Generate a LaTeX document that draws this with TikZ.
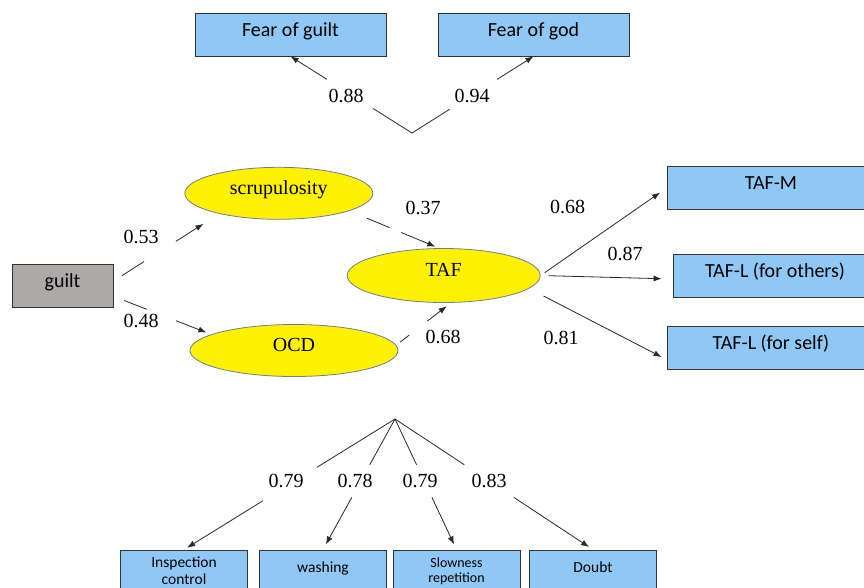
\documentclass[tikz,border=0pt]{standalone}
\usepackage{fontspec}
\setmainfont{Liberation Serif}
\newfontfamily\boxfont{Carlito}
\usetikzlibrary{arrows.meta,calc,shapes.geometric}
\definecolor{boxblue}{RGB}{143,199,245}
\definecolor{guiltgray}{RGB}{173,169,169}
\definecolor{ellborder}{RGB}{110,125,150}
\definecolor{linecol}{RGB}{40,40,40}
\tikzset{
  ln/.style={draw=linecol, line width=0.8pt},
  arr/.style={ln, -{Latex[length=8pt,width=6pt]}},
  bbox/.style={draw=black!80, fill=boxblue, line width=0.8pt, inner sep=0pt,
    font=\boxfont\fontsize{20}{24}\selectfont, minimum width=191, minimum height=43,
    text height=11pt, text depth=8pt},
  sbox/.style={draw=black!80, fill=boxblue, line width=0.8pt, inner sep=0pt,
    font=\boxfont\fontsize{15.5}{17}\selectfont, align=center,
    minimum width=127, minimum height=42},
  lat/.style={ellipse, draw=ellborder, fill=yellow, line width=0.8pt, inner sep=0pt,
    font=\fontsize{20}{24}\selectfont, text height=9pt, text depth=7pt},
  num/.style={font=\fontsize{20}{24}\selectfont, inner sep=0pt},
}
\newcommand\mylink[6]{%
  \path (#1) -- (#2) coordinate[pos=#3] (lkA) coordinate[pos=#4] (lkB)
                     coordinate[pos=#5] (lkC) coordinate[pos=#6] (lkD);
  \draw[ln] (lkA) -- (lkB);
  \draw[arr] (lkC) -- (lkD);}
\begin{document}
\begin{tikzpicture}[x=1pt,y=-1pt]
\clip (0,0) rectangle (864,587);
\fill[white] (0,0) rectangle (864,587);
% top boxes
\node[bbox] (fguilt) at (290.5,34.5) {Fear of guilt};
\node[bbox] (fgod) at (533.5,34.5) {Fear of god};
% latent variables
\node[lat, minimum width=188, minimum height=52] (scrup) at (278.8,193.3) {scrupulosity};
\node[lat, minimum width=193, minimum height=54] (taf) at (443.7,275.5) {TAF};
\node[lat, minimum width=208, minimum height=52] (ocd) at (294,350.5) {OCD};
% guilt
\node[bbox, fill=guiltgray, minimum width=101, minimum height=43] (guilt) at (62.5,285.5) {guilt};
% right boxes
\node[bbox, minimum width=208] (tafm) at (771,188) {TAF-M};
\node[bbox, minimum width=204] (tafo) at (775,275.5) {TAF-L (for others)};
\node[bbox, minimum width=208] (tafs) at (771,347.5) {TAF-L (for self)};
% bottom boxes
\node[sbox] (insp) at (184,571) {Inspection\\control};
\node[sbox, text height=8pt, text depth=6pt] (wash) at (323,571) {washing};
\node[sbox, font=\boxfont\fontsize{14}{15}\selectfont] (slow) at (456.5,571) {Slowness\\repetition};
\node[sbox, text height=8pt, text depth=6pt] (doubt) at (593,571) {Doubt};
% junction points
\coordinate (v1) at (412,133);
\coordinate (v2) at (395,419);
% connectors
\mylink{v1}{fguilt.south}{0}{0.32}{0.70}{1}
\mylink{v1}{fgod.south}{0}{0.31}{0.70}{1}
\mylink{guilt.5}{scrup.199}{0.08}{0.29}{0.59}{0.85}
\mylink{guilt.-12}{ocd.169}{0.11}{0.34}{0.64}{0.95}
\mylink{scrup.-14}{taf.100}{0.2}{0.45}{0.58}{0.96}
\mylink{ocd.3}{taf.-75}{0.07}{0.24}{0.57}{0.92}
\draw[arr, shorten <=5pt, shorten >=8pt] (taf.east) -- (tafm.west);
\draw[arr, shorten <=8pt, shorten >=11pt] (taf.east) -- ($(tafo.west)+(0,3.5)$);
\draw[arr] ($(taf.east)+(3,20.5)$) -- ($(tafs.west)+(-5,9.5)$);
\mylink{v2}{insp.north}{0}{0.37}{0.626}{0.985}
\mylink{v2}{wash.north}{0}{0.35}{0.6}{0.96}
\mylink{v2}{slow.north}{0}{0.35}{0.6}{0.96}
\mylink{v2}{doubt.north}{0}{0.35}{0.6}{0.98}
% labels
\node[num] (n1) at (346,96) {0.88};
\node[num] (n2) at (472,96) {0.94};
\node[num] (n3) at (141,237) {0.53};
\node[num] (n4) at (141,321) {0.48};
\node[num] (n5) at (423,207.5) {0.37};
\node[num] (n6) at (443,337) {0.68};
\node[num] (n7) at (567.5,207) {0.68};
\node[num] (n8) at (625,254) {0.87};
\node[num] (n9) at (561,337.5) {0.81};
\node[num] (n10) at (286,481) {0.79};
\node[num] (n11) at (355,481) {0.78};
\node[num] (n12) at (420,481) {0.79};
\node[num] (n13) at (489,481) {0.83};
\end{tikzpicture}
\end{document}
